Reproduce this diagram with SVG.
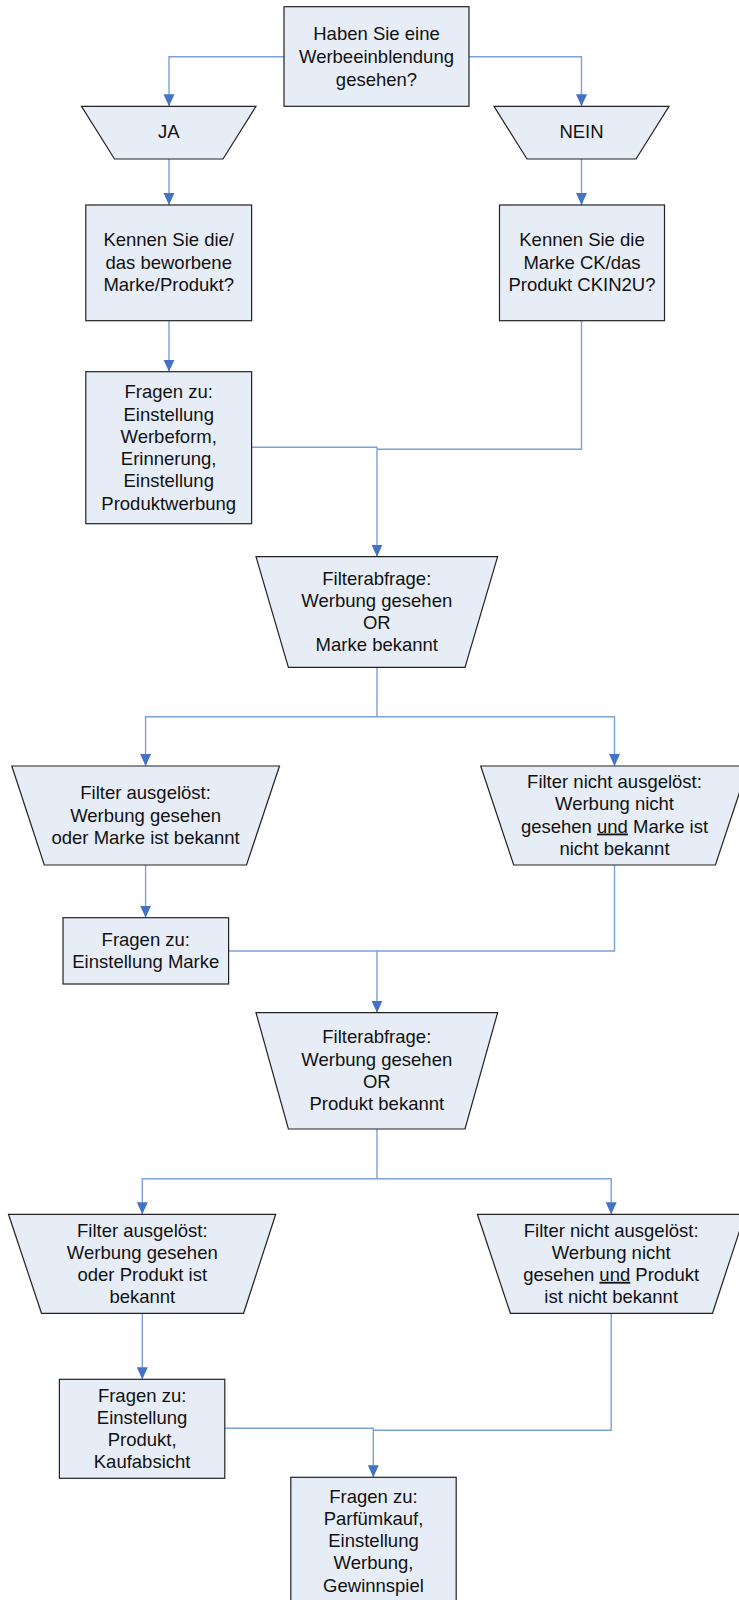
<svg xmlns="http://www.w3.org/2000/svg" width="739" height="1600" viewBox="0 0 739 1600">
  <style>
    .shape { fill: #E7EDF7; stroke: #222; stroke-width: 1.2; }
    .lbl { font-family: "Liberation Sans", Arial, sans-serif; font-size: 18.5px; fill: #111; text-anchor: middle; }
    .wire { fill: none; stroke: #7BA0DA; stroke-width: 1.4; }
    .u { text-decoration: underline; }
  </style>
  <defs>
    <marker id="arrow" viewBox="0 -6 12 12" refX="12" refY="0" markerWidth="12" markerHeight="12" markerUnits="userSpaceOnUse" orient="auto">
      <path d="M0,-5.5 L12,0 L0,5.5 z" fill="#4472C4"/>
    </marker>
  </defs>

  <rect width="739" height="1600" fill="#fff"/>

  <!-- connectors -->
  <g id="connectors">
    <path class="wire" d="M284,56.7 H169 V106.3" marker-end="url(#arrow)"/>
    <path class="wire" d="M469,56.7 H581.5 V106.3" marker-end="url(#arrow)"/>
    <path class="wire" d="M169,159 V205" marker-end="url(#arrow)"/>
    <path class="wire" d="M581.5,159 V205" marker-end="url(#arrow)"/>
    <path class="wire" d="M169,320.7 V371.7" marker-end="url(#arrow)"/>
    <path class="wire" d="M251.6,447.3 H377 V556.7" marker-end="url(#arrow)"/>
    <path class="wire" d="M581.5,320.7 V449.3 H377"/>
    <path class="wire" d="M377,667.3 V716.7"/>
    <path class="wire" d="M377,716.7 H145.6 V766" marker-end="url(#arrow)"/>
    <path class="wire" d="M377,716.7 H614.5 V766" marker-end="url(#arrow)"/>
    <path class="wire" d="M145.6,865 V917.7" marker-end="url(#arrow)"/>
    <path class="wire" d="M228.6,951 H377 V1012.7" marker-end="url(#arrow)"/>
    <path class="wire" d="M614.5,865 V951 H377"/>
    <path class="wire" d="M377,1129 V1178.7"/>
    <path class="wire" d="M377,1178.7 H142.3 V1214.3" marker-end="url(#arrow)"/>
    <path class="wire" d="M377,1178.7 H611.2 V1214.3" marker-end="url(#arrow)"/>
    <path class="wire" d="M142.3,1313.3 V1379.3" marker-end="url(#arrow)"/>
    <path class="wire" d="M224.8,1428.3 H373.3 V1477.3" marker-end="url(#arrow)"/>
    <path class="wire" d="M611.2,1313.3 V1430.3 H373.3"/>
  </g>

  <g id="n-start">
    <rect class="shape" x="284" y="6.7" width="185" height="99.6"/>
    <text class="lbl" x="376.5" y="40.4">Haben Sie eine</text>
    <text class="lbl" x="376.5" y="63">Werbeeinblendung</text>
    <text class="lbl" x="376.5" y="85.6">gesehen?</text>
  </g>

  <g id="n-ja">
    <polygon class="shape" points="81.5,106.3 256,106.3 223,159 114.5,159"/>
    <text class="lbl" x="168.7" y="137.5">JA</text>
  </g>

  <g id="n-nein">
    <polygon class="shape" points="494,106.3 669,106.3 636,159 527,159"/>
    <text class="lbl" x="581.5" y="137.5">NEIN</text>
  </g>

  <g id="n-kennen-ja">
    <rect class="shape" x="85.8" y="205" width="165.8" height="115.7"/>
    <text class="lbl" x="168.7" y="245.8">Kennen Sie die/</text>
    <text class="lbl" x="168.7" y="268.6">das beworbene</text>
    <text class="lbl" x="168.7" y="290.8">Marke/Produkt?</text>
  </g>

  <g id="n-kennen-nein">
    <rect class="shape" x="499.5" y="205" width="165" height="115.7"/>
    <text class="lbl" x="582" y="245.8">Kennen Sie die</text>
    <text class="lbl" x="582" y="268.6">Marke CK/das</text>
    <text class="lbl" x="582" y="290.8">Produkt CKIN2U?</text>
  </g>

  <g id="n-fragen-werbung">
    <rect class="shape" x="85.8" y="371.7" width="165.8" height="152"/>
    <text class="lbl" x="168.7" y="398.2">Fragen zu:</text>
    <text class="lbl" x="168.7" y="420.5">Einstellung</text>
    <text class="lbl" x="168.7" y="442.8">Werbeform,</text>
    <text class="lbl" x="168.7" y="465.1">Erinnerung,</text>
    <text class="lbl" x="168.7" y="487.4">Einstellung</text>
    <text class="lbl" x="168.7" y="509.7">Produktwerbung</text>
  </g>

  <g id="n-filter-marke">
    <polygon class="shape" points="256,556.7 497.6,556.7 465,667.3 288.4,667.3"/>
    <text class="lbl" x="376.8" y="584.8">Filterabfrage:</text>
    <text class="lbl" x="376.8" y="607.1">Werbung gesehen</text>
    <text class="lbl" x="376.8" y="629.2">OR</text>
    <text class="lbl" x="376.8" y="650.8">Marke bekannt</text>
  </g>

  <g id="n-marke-ja">
    <polygon class="shape" points="11.8,766 279.5,766 246.5,865 44.3,865"/>
    <text class="lbl" x="145.6" y="799.2">Filter ausgelöst:</text>
    <text class="lbl" x="145.6" y="822.2">Werbung gesehen</text>
    <text class="lbl" x="145.6" y="843.8">oder Marke ist bekannt</text>
  </g>

  <g id="n-marke-nein">
    <polygon class="shape" points="480.7,766 748.3,766 715.4,865 513.7,865"/>
    <text class="lbl" x="614.5" y="788.2">Filter nicht ausgelöst:</text>
    <text class="lbl" x="614.5" y="809.8">Werbung nicht</text>
    <text class="lbl" x="614.5" y="832.5">gesehen <tspan class="u">und</tspan> Marke ist</text>
    <text class="lbl" x="614.5" y="854.8">nicht bekannt</text>
  </g>

  <g id="n-fragen-marke">
    <rect class="shape" x="63" y="917.7" width="165.6" height="66.3"/>
    <text class="lbl" x="145.8" y="945.8">Fragen zu:</text>
    <text class="lbl" x="145.8" y="967.5">Einstellung Marke</text>
  </g>

  <g id="n-filter-produkt">
    <polygon class="shape" points="256,1012.7 497.6,1012.7 465,1129 288.4,1129"/>
    <text class="lbl" x="376.8" y="1043.2">Filterabfrage:</text>
    <text class="lbl" x="376.8" y="1065.5">Werbung gesehen</text>
    <text class="lbl" x="376.8" y="1087.5">OR</text>
    <text class="lbl" x="376.8" y="1109.8">Produkt bekannt</text>
  </g>

  <g id="n-produkt-ja">
    <polygon class="shape" points="8.5,1214.3 275.7,1214.3 243.6,1313.3 41.5,1313.3"/>
    <text class="lbl" x="142.3" y="1236.5">Filter ausgelöst:</text>
    <text class="lbl" x="142.3" y="1258.8">Werbung gesehen</text>
    <text class="lbl" x="142.3" y="1280.8">oder Produkt ist</text>
    <text class="lbl" x="142.3" y="1303.2">bekannt</text>
  </g>

  <g id="n-produkt-nein">
    <polygon class="shape" points="477.4,1214.3 745,1214.3 712.5,1313.3 510.4,1313.3"/>
    <text class="lbl" x="611.2" y="1236.5">Filter nicht ausgelöst:</text>
    <text class="lbl" x="611.2" y="1258.8">Werbung nicht</text>
    <text class="lbl" x="611.2" y="1280.8">gesehen <tspan class="u">und</tspan> Produkt</text>
    <text class="lbl" x="611.2" y="1303.2">ist nicht bekannt</text>
  </g>

  <g id="n-fragen-produkt">
    <rect class="shape" x="59.4" y="1379.3" width="165.4" height="99"/>
    <text class="lbl" x="142.1" y="1401.5">Fragen zu:</text>
    <text class="lbl" x="142.1" y="1423.8">Einstellung</text>
    <text class="lbl" x="142.1" y="1445.5">Produkt,</text>
    <text class="lbl" x="142.1" y="1467.5">Kaufabsicht</text>
  </g>

  <g id="n-fragen-abschluss">
    <rect class="shape" x="290.8" y="1477.3" width="165.4" height="135"/>
    <text class="lbl" x="373.5" y="1502.5">Fragen zu:</text>
    <text class="lbl" x="373.5" y="1524.8">Parfümkauf,</text>
    <text class="lbl" x="373.5" y="1546.5">Einstellung</text>
    <text class="lbl" x="373.5" y="1569.2">Werbung,</text>
    <text class="lbl" x="373.5" y="1591.5">Gewinnspiel</text>
  </g>
</svg>
